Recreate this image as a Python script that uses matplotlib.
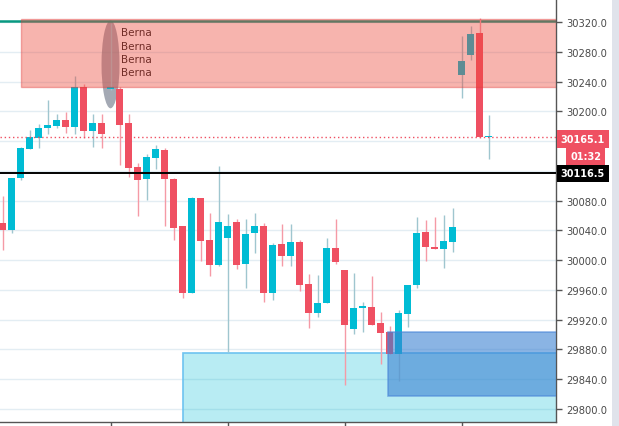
import numpy as np
import matplotlib
matplotlib.use('Agg')
from matplotlib import pyplot as plt
from matplotlib.patches import Rectangle, Ellipse
from matplotlib.transforms import blended_transform_factory

# candles (open, high, low, close)
opens = [30050, 30040, 30110, 30149, 30164, 30178, 30180, 30188, 30179, 30232,
         30173, 30184, 30230, 30230, 30184, 30125, 30109, 30137, 30148, 30109,
         30046, 29956, 30083, 30027, 29993, 30030, 30051, 29995, 30036, 30046,
         29956, 30022, 30006, 30024, 29968, 29929, 29943, 30016, 29987, 29908,
         29935, 29937, 29915, 29903, 29874, 29928, 29966, 30038, 30018, 30015,
         30024, 30249, 30276, 30305, 30165.1]
highs = [30086, 30110, 30152, 30175, 30183, 30215, 30196, 30199, 30247, 30237,
         30196, 30196, 30318, 30232, 30196, 30130, 30143, 30155, 30150, 30110,
         30046, 30085, 30083, 30063, 30127, 30062, 30055, 30055, 30063, 30050,
         30023, 30049, 30049, 30027, 29981, 29980, 30030, 30055, 29987, 29983,
         29944, 29979, 29930, 29911, 29933, 29966, 30058, 30054, 30058, 30061,
         30070, 30301, 30315, 30325, 30195]
lows = [30013, 30036, 30107, 30149, 30150, 30170, 30177, 30171, 30170, 30164,
        30152, 30151, 30228, 30128, 30112, 30059, 30081, 30123, 30046, 30027,
        29949, 29956, 29999, 29978, 29992, 29876, 29988, 29963, 30010, 29944,
        29947, 29992, 29992, 29959, 29909, 29924, 29943, 29995, 29832, 29901,
        29904, 29913, 29861, 29874, 29838, 29910, 29963, 29999, 30015, 29989,
        30011, 30218, 30269, 30164, 30136]
closes = [30040, 30110, 30151, 30165, 30178, 30182, 30188, 30179, 30232, 30173,
          30184, 30170, 30233, 30182, 30124, 30108, 30139, 30149, 30109, 30043,
          29956, 30083, 30026, 29993, 30051, 30046, 29993, 30035, 30046, 29956,
          30020, 30006, 30024, 29967, 29929, 29943, 30016, 29997, 29913, 29936,
          29938, 29913, 29902, 29874, 29929, 29966, 30036, 30017, 30015, 30026,
          30045, 30268, 30304, 30165, 30165.1]

y_ticks = np.arange(29800, 30321, 40)
hidden_ticks = [30160, 30120]   # covered by the price tags
x_ticks = [12, 25, 38, 51]

# drawings on the chart
resist_top, resist_bottom, resist_start = 30323.5, 30232, 2
support_top, support_bottom, support_start = 29875, 29700, 20
demand_top, demand_bottom, demand_start = 29903, 29818, 42.85
ellipse_x, ellipse_top, ellipse_bottom = 12, 30322, 30204
top_level = 30321
last_price = 30165.1
black_level = 30116.5
timer = '01:32'
notes = ['Berna', 'Berna', 'Berna', 'Berna']
notes_x, notes_y, notes_step = 13.2, 30306, 17.7

up = '#00bcd4'
down = '#ef5062'
up_wick = '#9fc6cf'
down_wick = '#f59aa6'

fig = plt.figure(figsize=(6.19, 4.27), dpi=100)
ax = fig.add_axes([0, 4 / 427, 556 / 619, 423 / 427])
ax.set_xlim(-0.28, 61.5)
ax.set_ylim(29782.4, 30350.9)

for y in y_ticks:
    ax.axhline(y, color='#e3edf3', lw=1, zorder=0)

x = np.arange(len(opens))
o = np.array(opens, dtype=float)
c = np.array(closes, dtype=float)
rising = c >= o
body_col = [up if r else down for r in rising]
wick_col = [up_wick if r else down_wick for r in rising]

# support box sits under the candles
ax.add_patch(Rectangle((support_start, support_bottom), 100, support_top - support_bottom,
                       facecolor=up, alpha=0.28, edgecolor='none', zorder=1))
ax.add_patch(Rectangle((support_start, support_bottom), 100, support_top - support_bottom,
                       facecolor='none', edgecolor='#6ec3f0', lw=1.2, zorder=1))

ax.add_patch(Ellipse((ellipse_x, (ellipse_top + ellipse_bottom) / 2), 2.0,
                     ellipse_top - ellipse_bottom, facecolor='#737c8c', alpha=0.65,
                     edgecolor='none', zorder=2))
ax.axhline(top_level, color='#089981', lw=1.8, zorder=2)

ax.vlines(x, lows, highs, colors=wick_col, lw=1, zorder=3)
height = np.maximum(np.abs(c - o), 1.5)
ax.bar(x, height, bottom=np.minimum(o, c), width=0.78, color=body_col, zorder=3.5)

for k, s in enumerate(notes):
    ax.text(notes_x, notes_y - k * notes_step, s, fontsize=7.5, color='#1f1f1f',
            va='center', ha='left', zorder=3.6)

# resistance and demand boxes are drawn over the candles
ax.add_patch(Rectangle((resist_start, resist_bottom), 100, resist_top - resist_bottom,
                       facecolor='#ed4435', alpha=0.4, edgecolor='#e03a3a', lw=1, zorder=4))
ax.add_patch(Rectangle((demand_start, demand_bottom), 100, demand_top - demand_bottom,
                       facecolor='#3c82d2', alpha=0.6, edgecolor='#4a86d8', lw=1.2, zorder=4))

ax.axhline(last_price, color=down, lw=1, ls=(0, (1, 2)), zorder=5)
ax.axhline(black_level, color='black', lw=1.4, zorder=5)

ax.yaxis.tick_right()
ax.set_yticks(y_ticks)
ax.set_yticklabels(['' if v in hidden_ticks else '%.1f' % v for v in y_ticks])
ax.tick_params(axis='y', length=4, width=1, color='#555555', labelcolor='#4a4a4a',
               labelsize=7.2, pad=3.5)
ax.set_xticks(x_ticks)
ax.set_xticklabels([])
ax.tick_params(axis='x', length=4, width=1, color='#555555', direction='out')
for side in ['top', 'left']:
    ax.spines[side].set_visible(False)
for side in ['right', 'bottom']:
    ax.spines[side].set_color('#555555')
    ax.spines[side].set_linewidth(1)

tr = blended_transform_factory(ax.transAxes, ax.transData)
tag = dict(fontsize=7, fontweight='bold', color='white', clip_on=False, zorder=10,
           va='center', transform=tr)
ax.text(1.008, last_price - 2, '%.1f' % last_price, ha='left',
        bbox=dict(boxstyle='square,pad=0.4', fc=down, ec='none'), **tag)
ax.text(1.081, last_price - 25, timer, ha='right',
        bbox=dict(boxstyle='square,pad=0.4', fc=down, ec='none'), **tag)
ax.text(1.008, black_level, '%.1f' % black_level, ha='left',
        bbox=dict(boxstyle='square,pad=0.4', fc='black', ec='none'), **tag)

fig.patches.append(Rectangle((612 / 619, 0), 7 / 619, 1, transform=fig.transFigure,
                             facecolor='#e0e3eb', edgecolor='none'))

fig.savefig('out.png', dpi=100)
